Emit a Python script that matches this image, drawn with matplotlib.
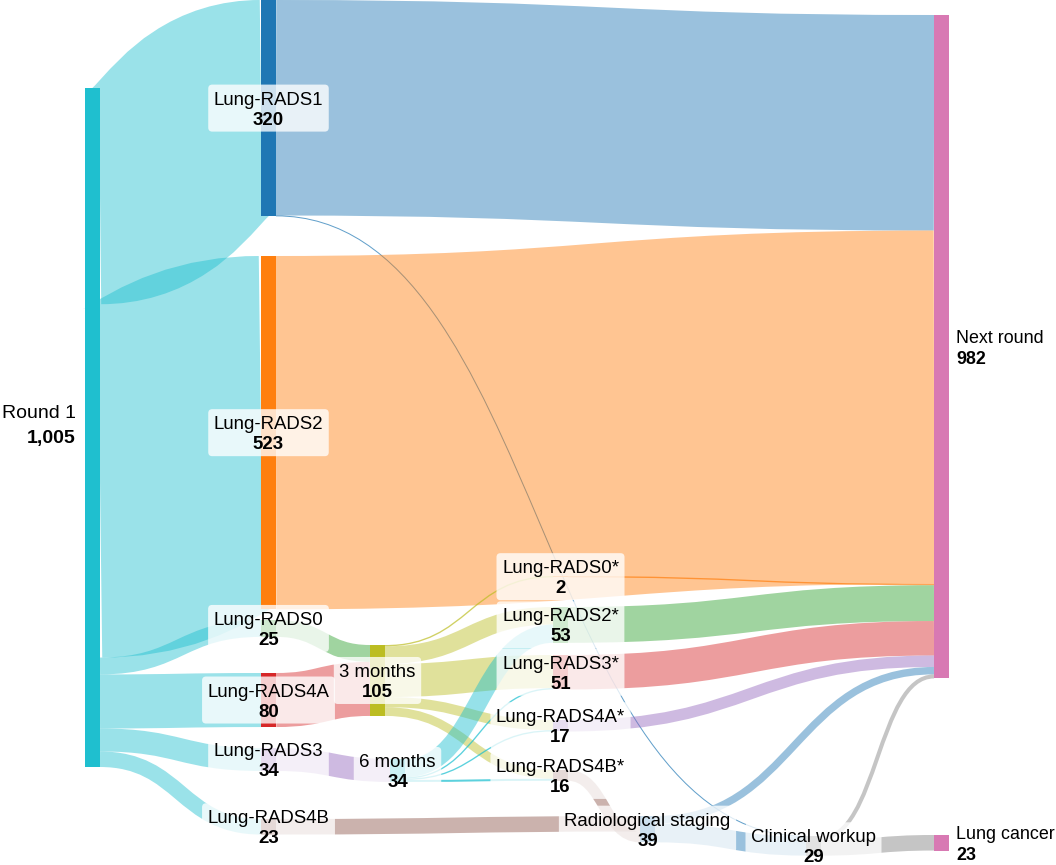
import matplotlib
matplotlib.use("Agg")
import matplotlib.pyplot as plt
from matplotlib.path import Path
from matplotlib.patches import PathPatch, Rectangle, FancyBboxPatch

plt.rcParams['font.family'] = ['Liberation Sans', 'DejaVu Sans']

# ---------------- data ----------------
node_names = ["Round 1", "Lung-RADS1", "Lung-RADS2", "Lung-RADS0", "Lung-RADS4A",
              "Lung-RADS3", "Lung-RADS4B", "3 months", "6 months", "Lung-RADS0*",
              "Lung-RADS2*", "Lung-RADS3*", "Lung-RADS4A*", "Lung-RADS4B*",
              "Radiological staging", "Clinical workup", "Next round", "Lung cancer"]

link_source = ["Round 1", "Round 1", "Round 1", "Round 1", "Round 1", "Round 1",
               "Lung-RADS1", "Lung-RADS1", "Lung-RADS2",
               "Lung-RADS0", "Lung-RADS4A", "Lung-RADS3",
               "3 months", "3 months", "3 months", "3 months", "3 months",
               "6 months", "6 months", "6 months", "6 months",
               "Lung-RADS4B",
               "Lung-RADS0*", "Lung-RADS2*", "Lung-RADS3*", "Lung-RADS4A*", "Lung-RADS4B*",
               "Radiological staging", "Radiological staging",
               "Clinical workup", "Clinical workup"]
link_target = ["Lung-RADS1", "Lung-RADS2", "Lung-RADS0", "Lung-RADS4A", "Lung-RADS3", "Lung-RADS4B",
               "Next round", "Clinical workup", "Next round",
               "3 months", "3 months", "6 months",
               "Lung-RADS0*", "Lung-RADS2*", "Lung-RADS3*", "Lung-RADS4A*", "Lung-RADS4B*",
               "Lung-RADS2*", "Lung-RADS3*", "Lung-RADS4A*", "Lung-RADS4B*",
               "Radiological staging",
               "Next round", "Next round", "Next round", "Next round", "Radiological staging",
               "Next round", "Clinical workup",
               "Next round", "Lung cancer"]
link_value = [320, 523, 25, 80, 34, 23,
              319, 1, 523,
              25, 80, 34,
              2, 26, 49, 15, 13,
              27, 2, 2, 3,
              23,
              2, 53, 51, 17, 16,
              11, 28,
              6, 23]

node_colors = {
    "Round 1": "#1fbfcf", "Lung-RADS1": "#1f77b4", "Lung-RADS2": "#ff7f0e",
    "Lung-RADS0": "#2ca02c", "Lung-RADS4A": "#d62728", "Lung-RADS3": "#9467bd",
    "Lung-RADS4B": "#8c564b", "3 months": "#bcbd22", "6 months": "#17becf",
    "Lung-RADS0*": "#ff7f0e", "Lung-RADS2*": "#2ca02c", "Lung-RADS3*": "#d62728",
    "Lung-RADS4A*": "#9467bd", "Lung-RADS4B*": "#8c564b",
    "Radiological staging": "#1f77b4", "Clinical workup": "#7f7f7f",
    "Next round": "#d879b3", "Lung cancer": "#d879b3",
}

# ---------------- layout (pixels) ----------------
W, H = 1056, 865
NODE_W = 15
K = 679.0 / 1005.0   # pixels per unit
node_x = {
    "Round 1": 85, "Lung-RADS1": 261, "Lung-RADS2": 261, "Lung-RADS0": 261,
    "Lung-RADS4A": 261, "Lung-RADS3": 261, "Lung-RADS4B": 261,
    "3 months": 370, "6 months": 390,
    "Lung-RADS0*": 553, "Lung-RADS2*": 553, "Lung-RADS3*": 553,
    "Lung-RADS4A*": 553, "Lung-RADS4B*": 553,
    "Radiological staging": 640, "Clinical workup": 806,
    "Next round": 934, "Lung cancer": 934,
}
node_top = {
    "Round 1": 88, "Lung-RADS1": 0, "Lung-RADS2": 256, "Lung-RADS0": 620,
    "Lung-RADS4A": 673, "Lung-RADS3": 748, "Lung-RADS4B": 819,
    "3 months": 645, "6 months": 759,
    "Lung-RADS0*": 576, "Lung-RADS2*": 607, "Lung-RADS3*": 655,
    "Lung-RADS4A*": 720, "Lung-RADS4B*": 770,
    "Radiological staging": 816, "Clinical workup": 836,
    "Next round": 15, "Lung cancer": 835,
}
in_order_override = {"Radiological staging": ["Lung-RADS4B", "Lung-RADS4B*"]}
side_left = {"Round 1"}
side_right = {"Next round", "Lung cancer"}

fig = plt.figure(figsize=(W / 100, H / 100), dpi=100)
ax = fig.add_axes([0, 0, 1, 1])
ax.set_xlim(0, W)
ax.set_ylim(H, 0)
ax.axis('off')

links = [dict(s=s, t=t, v=v) for s, t, v in zip(link_source, link_target, link_value)]
in_sum = {n: 0 for n in node_names}
out_sum = {n: 0 for n in node_names}
for l in links:
    out_sum[l['s']] += l['v']
    in_sum[l['t']] += l['v']
node_val = {n: max(in_sum[n], out_sum[n]) for n in node_names}

# stacking offsets
for n in node_names:
    outs = sorted([l for l in links if l['s'] == n], key=lambda l: node_top[l['t']])
    y = node_top[n]
    for l in outs:
        l['sy'] = y + l['v'] * K / 2
        y += l['v'] * K
    ins = [l for l in links if l['t'] == n]
    if n in in_order_override:
        order = in_order_override[n]
        ins = sorted(ins, key=lambda l: order.index(l['s']))
    else:
        ins = sorted(ins, key=lambda l: node_top[l['s']])
    y = node_top[n]
    for l in ins:
        l['ty'] = y + l['v'] * K / 2
        y += l['v'] * K

# links as thick strokes along bezier centerline
for l in links:
    x0 = node_x[l['s']] + NODE_W
    x1 = node_x[l['t']]
    xm = (x0 + x1) / 2
    path = Path([(x0, l['sy']), (xm, l['sy']), (xm, l['ty']), (x1, l['ty'])],
                [Path.MOVETO, Path.CURVE4, Path.CURVE4, Path.CURVE4])
    width_px = max(l['v'] * K, 1.0)
    alpha = 0.45 if l['v'] > 3 else 0.7
    p = PathPatch(path, fill=False, edgecolor=node_colors[l['s']], alpha=alpha,
                  lw=width_px * 0.72, zorder=1)
    p.set_capstyle('butt')
    ax.add_patch(p)

# nodes
for n in node_names:
    ax.add_patch(Rectangle((node_x[n], node_top[n]), NODE_W, node_val[n] * K,
                           facecolor=node_colors[n], edgecolor='none', zorder=2))

# labels
FS = 13.4
FS_SIDE = 12.9
renderer = fig.canvas.get_renderer()
for n in node_names:
    cy = node_top[n] + node_val[n] * K / 2
    val = f"{node_val[n]:,}"
    if n in side_left:
        tx = node_x[n] - 9
        ax.text(tx, cy - 10, n, ha='right', va='baseline', fontsize=14.0, zorder=5)
        ax.text(tx, cy + 16, val, ha='right', va='baseline', fontsize=14.0,
                fontweight='bold', zorder=5)
    elif n in side_right:
        tx = node_x[n] + NODE_W + 7
        ax.text(tx, cy - 4, n, ha='left', va='baseline', fontsize=FS_SIDE, zorder=5)
        ax.text(tx, cy + 17, val, ha='left', va='baseline', fontsize=FS_SIDE,
                fontweight='bold', zorder=5)
    else:
        cx = node_x[n] + NODE_W / 2
        t1 = ax.text(cx, cy - 3.5, n, ha='center', va='baseline', fontsize=FS, zorder=5)
        t2 = ax.text(cx, cy + 16.5, val, ha='center', va='baseline', fontsize=FS,
                     fontweight='bold', zorder=5)
        w = max(t1.get_window_extent(renderer).width, t2.get_window_extent(renderer).width)
        bw = w + 11
        ax.add_patch(FancyBboxPatch((cx - bw / 2, cy - 23.5), bw, 47,
                                    boxstyle="round,pad=0,rounding_size=4",
                                    facecolor='white', alpha=0.78, edgecolor='none',
                                    zorder=4))

fig.savefig("out.png", dpi=100)
